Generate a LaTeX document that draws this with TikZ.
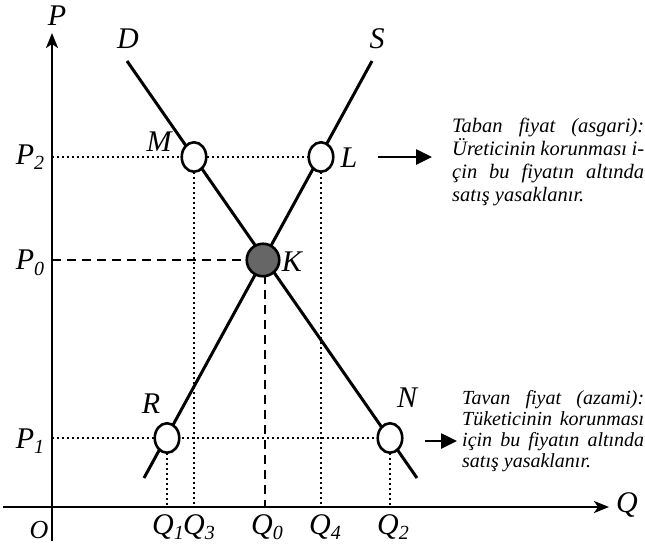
\documentclass[tikz,border=0pt]{standalone}
\usepackage{fontspec}
\setmainfont{Liberation Serif}
\usetikzlibrary{arrows.meta,shapes.geometric,backgrounds}
\newcommand{\lblsub}[2]{\textit{#1}\raisebox{-0.4ex}{\fontsize{20}{20}\selectfont\textit{#2}}}
\begin{document}
\begin{tikzpicture}[x=1pt,y=-1pt,
  curve/.style={line width=3pt},
  axisline/.style={line width=2.4pt,-{Stealth[length=15pt,width=12pt,inset=4pt]}},
  dotline/.style={line width=2pt,dash pattern=on 2pt off 3pt},
  dashline/.style={line width=2.6pt,dash pattern=on 9pt off 6pt},
  pointbox/.style={ellipse,draw,line width=2.6pt,fill=white,minimum width=24.5pt,minimum height=29.5pt,inner sep=0pt},
  eqbox/.style={circle,draw,line width=2.6pt,fill=black!60,minimum size=32.5pt,inner sep=0pt},
  lab/.style={font=\fontsize{30}{30}\selectfont\itshape,inner sep=0pt},
  pointer/.style={line width=2.6pt,-{Triangle[length=16pt,width=15pt]}},
  note/.style={inner sep=0pt,align=left,anchor=north west}
]
\useasboundingbox (0,0) rectangle (645,552);
% axes ends
\coordinate (Ybot) at (52,541);
\coordinate (Ytop) at (52,33);
\coordinate (Xl) at (3,507);
\coordinate (Xr) at (609,507);
% curve ends
\coordinate (D1) at (127,61);
\coordinate (D2) at (417,478);
\coordinate (S1) at (372,61);
\coordinate (S2) at (144,478);
% points
\node[pointbox] (M) at (194,157) {};
\node[pointbox] (L) at (321,157) {};
\node[eqbox] (K) at (263,260) {};
\node[pointbox] (R) at (167,438) {};
\node[pointbox] (N) at (390,438) {};
\begin{scope}[on background layer]
  \draw[axisline] (Ybot) -- (Ytop);
  \draw[axisline] (Xl) -- (Xr);
  \draw[curve] (D1) -- (D2);
  \draw[curve] (S1) -- (S2);
  \draw[dotline] (Ybot |- L) -- (L.center);
  \draw[dotline] (Ybot |- N) -- (N.center);
  \draw[dotline] (M.center) -- (M |- Xl);
  \draw[dotline] (L.center) -- (L |- Xl);
  \draw[dotline] (R.center) -- (R |- Xl);
  \draw[dotline] (N.center) -- (N |- Xl);
  \draw[dashline] (Ybot |- K) -- (K.center);
  \draw[dashline] (265,260) -- (265,507);
\end{scope}
% labels
\node[lab] (P) at (57,16) {P};
\node[lab] (Q) at (627,505) {Q};
\node[lab] (D) at (128,39) {D};
\node[lab] (S) at (377,39) {S};
\node[lab] (Mlab) at (159,142) {M};
\node[lab] (Llab) at (349,158) {L};
\node[lab] (Klab) at (292,262) {K};
\node[lab] (Rlab) at (151,404) {R};
\node[lab] (Nlab) at (407,398) {N};
\node[font=\fontsize{26}{26}\selectfont\itshape,inner sep=0pt] (O) at (39,530) {O};
\node[lab] (P2) at (30,157) {\lblsub{P}{2}};
\node[lab] (P0) at (30,263) {\lblsub{P}{0}};
\node[lab] (P1) at (30,441) {\lblsub{P}{1}};
\node[lab] (Q1) at (168,527) {\lblsub{Q}{1}};
\node[lab] (Q3) at (199,527) {\lblsub{Q}{3}};
\node[lab] (Q0) at (267,527) {\lblsub{Q}{0}};
\node[lab] (Q4) at (325,527) {\lblsub{Q}{4}};
\node[lab] (Q2) at (393,527) {\lblsub{Q}{2}};
% notes
\node[note,font=\fontsize{20.5}{23}\selectfont\itshape] (taban) at (452,118) {%
\makebox[192pt][s]{Taban fiyat (asgari):}\\
\makebox[192pt][s]{Üreticinin korunması i-}\\
\makebox[192pt][s]{çin bu fiyatın altında}\\
satış yasaklanır.};
\node[note,font=\fontsize{20}{21}\selectfont\itshape] (tavan) at (462,390) {%
\makebox[182pt][s]{Tavan fiyat (azami):}\\
\makebox[182pt][s]{Tüketicinin korunması}\\
\makebox[182pt][s]{için bu fiyatın altında}\\
satış yasaklanır.};
\coordinate (A1) at (378,157);
\coordinate (A2) at (432,157);
\coordinate (B1) at (425,441);
\coordinate (B2) at (457,441);
\draw[pointer] (A1) -- (A2);
\draw[pointer] (B1) -- (B2);
\end{tikzpicture}
\end{document}
